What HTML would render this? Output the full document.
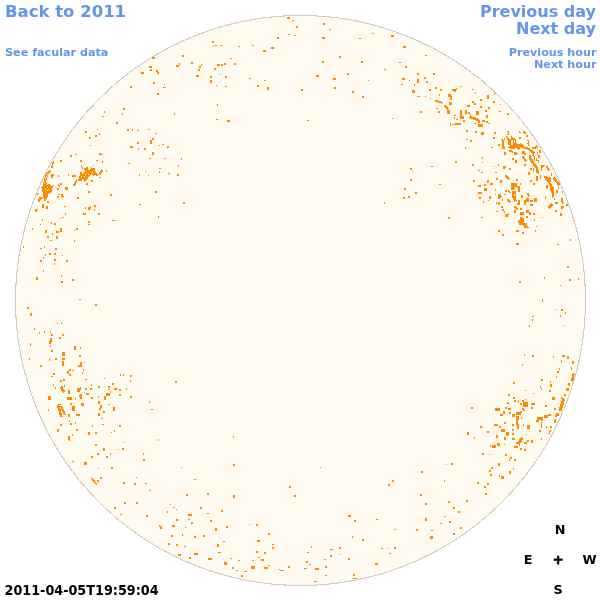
<!DOCTYPE html>
<html><head><meta charset="utf-8"><title>Faculae 2011-04-05</title>
<style>
html,body{margin:0;padding:0;background:#fff;width:600px;height:600px;overflow:hidden}
svg{display:block}
text{font-family:"DejaVu Sans","Liberation Sans",sans-serif;font-weight:bold}
.b{fill:#6495ed}
.k{fill:#000}
</style></head><body>
<svg width="600" height="600" viewBox="0 0 600 600">
<rect width="600" height="600" fill="#fff"/>
<circle cx="300.5" cy="300.5" r="285" fill="#fffaf0" stroke="#d1cdc0" stroke-width="1.1" shape-rendering="crispEdges"/>
<g id="dots" fill="#ff8c00" shape-rendering="crispEdges">
<rect x="539" y="150" width="2" height="3"/><rect x="538" y="155" width="2" height="3"/><rect x="538" y="161" width="1" height="2"/><path d="M541.0 164.5L545.0 165.5L542.5 168.5L542.0 171.5L540.5 169.0z"/><path d="M546.5 166.5L549.0 170.5" stroke="#ff8c00" stroke-width="2" fill="none"/><rect x="538" y="170" width="1" height="4"/><rect x="540" y="175" width="1" height="4"/><rect x="551" y="173" width="1" height="3"/><path d="M544.0 176.5L546.0 176.0L548.0 178.0L550.0 176.5L551.0 180.0L550.5 182.5L553.5 187.0L554.0 192.0L553.5 197.5L552.0 197.5L551.5 193.0L550.0 190.0L550.0 186.5L548.0 182.0L545.5 180.0z"/><rect x="546" y="185" width="2" height="3"/><rect x="547" y="188" width="1" height="1"/><path d="M553.5 177.5L559.5 185.0" stroke="#ff8c00" stroke-width="2.5" fill="none"/><rect x="558" y="187" width="1" height="2"/><rect x="556" y="190" width="2" height="3"/>
<rect x="562" y="191" width="1" height="2"/><rect x="545" y="196" width="1" height="3"/><rect x="554" y="198" width="1" height="2"/><path d="M561.5 198.5L563.0 203.5" stroke="#ff8c00" stroke-width="2" fill="none"/><rect x="555" y="202" width="3" height="2"/><path d="M552.5 204.0L548.5 208.0" stroke="#ff8c00" stroke-width="2.5" fill="none"/><rect x="562" y="206" width="2" height="2"/><rect x="566" y="204" width="2" height="2"/><rect x="507" y="131" width="2" height="1"/><rect x="508" y="132" width="1" height="2"/><rect x="507" y="134" width="2" height="1"/><path d="M519.3 131.3L520.7 133.3" stroke="#ff8c00" stroke-width="1.5" fill="none"/><path d="M523.3 131.3L525.7 133.7" stroke="#ff8c00" stroke-width="2" fill="none"/><rect x="526" y="135" width="2" height="2"/><rect x="519" y="137" width="2" height="2"/><path d="M501.3 139.3L503.0 140.0" stroke="#ff8c00" stroke-width="1.5" fill="none"/>
<rect x="502" y="140" width="2" height="7"/><rect x="502" y="146" width="3" height="3"/><rect x="504" y="138" width="1" height="2"/><rect x="498" y="144" width="2" height="2"/><path d="M506.3 136.7L509.0 139.7" stroke="#ff8c00" stroke-width="2" fill="none"/><path d="M508.0 139.3L511.0 139.3L511.3 136.3L513.0 138.0L516.0 139.0L516.3 142.7L518.0 144.3L520.7 143.3L523.0 144.3L524.3 146.7L528.0 147.3L529.3 148.7L528.0 149.7L524.7 148.7L522.7 147.7L520.0 147.3L519.3 150.0L517.3 149.3L516.0 148.0L513.3 149.3L511.3 148.7L508.3 148.3L508.0 147.0L510.3 145.7L508.0 144.7z"/><path d="M528.3 148.3L534.3 153.7" stroke="#ff8c00" stroke-width="2.5" fill="none"/><rect x="527" y="140" width="2" height="1"/><rect x="528" y="141" width="1" height="2"/><rect x="527" y="143" width="2" height="1"/><rect x="528" y="144" width="1" height="2"/>
<path d="M532.3 147.0L534.0 148.7" stroke="#ff8c00" stroke-width="2" fill="none"/><path d="M537.0 145.7L534.3 148.3" stroke="#ff8c00" stroke-width="2" fill="none"/><rect x="537" y="148" width="1" height="1"/><rect x="509" y="150" width="3" height="2"/><rect x="512" y="151" width="1" height="2"/><rect x="504" y="152" width="2" height="3"/><rect x="514" y="152" width="3" height="3"/><rect x="516" y="153" width="2" height="1"/><rect x="522" y="151" width="3" height="3"/><rect x="524" y="153" width="2" height="2"/><rect x="537" y="152" width="1" height="3"/><path d="M529.0 155.3L531.0 155.0L531.3 157.3L532.7 159.3L534.3 162.7L537.3 166.0L538.0 168.0L535.3 168.0L533.3 165.3L531.0 162.7L529.3 160.0z"/><rect x="532" y="155" width="2" height="1"/><rect x="534" y="156" width="1" height="3"/><rect x="534" y="156" width="1" height="5"/><rect x="536" y="160" width="3" height="1"/>
<rect x="536" y="158" width="1" height="2"/><path d="M522.3 156.3L526.3 161.3" stroke="#ff8c00" stroke-width="2" fill="none"/><rect x="512" y="158" width="2" height="2"/><rect x="515" y="160" width="2" height="3"/><rect x="524" y="164" width="2" height="2"/><rect x="498" y="164" width="1" height="2"/><rect x="503" y="166" width="3" height="2"/><rect x="503" y="168" width="2" height="1"/><rect x="509" y="168" width="2" height="2"/><path d="M505.5 175.0L509.5 179.5" stroke="#ff8c00" stroke-width="2" fill="none"/><rect x="500" y="180" width="2" height="3"/><rect x="516" y="179" width="2" height="2"/><rect x="528" y="172" width="2" height="3"/><rect x="530" y="168" width="2" height="2"/><rect x="533" y="168" width="1" height="4"/><rect x="536" y="168" width="2" height="5"/><rect x="536" y="176" width="2" height="5"/><rect x="530" y="180" width="2" height="2"/>
<rect x="533" y="183" width="2" height="2"/><rect x="520" y="183" width="1" height="2"/><path d="M511.0 183.0L517.0 183.0L517.5 185.5L519.5 186.5L519.5 191.5L518.0 191.5L517.5 188.5L515.5 186.5L514.0 189.5L511.0 189.5z"/><path d="M512.0 190.5L516.0 190.5L516.0 198.0L517.0 201.0L514.5 201.5L512.0 197.0z"/><rect x="505" y="190" width="2" height="2"/><path d="M508.0 190.5L510.5 193.0" stroke="#ff8c00" stroke-width="1.5" fill="none"/><rect x="504" y="194" width="2" height="1"/><path d="M498.0 194.0L501.0 194.2L502.0 197.0L500.0 198.5L498.0 199.0z"/><rect x="502" y="199" width="1" height="2"/><rect x="498" y="202" width="2" height="3"/><path d="M507.5 199.5L510.5 202.5" stroke="#ff8c00" stroke-width="1.5" fill="none"/><rect x="521" y="195" width="2" height="3"/><path d="M527.5 193.5L529.5 196.5" stroke="#ff8c00" stroke-width="2" fill="none"/><rect x="518" y="200" width="2" height="3"/>
<rect x="517" y="203" width="3" height="2"/><rect x="524" y="200" width="2" height="5"/><rect x="526" y="198" width="3" height="4"/><rect x="530" y="200" width="3" height="2"/><rect x="534" y="198" width="3" height="4"/><rect x="530" y="204" width="3" height="2"/><path d="M514.5 206.5L517.5 210.0" stroke="#ff8c00" stroke-width="2" fill="none"/><rect x="520" y="208" width="2" height="2"/><rect x="514" y="210" width="2" height="3"/><rect x="501" y="206" width="2" height="2"/><rect x="502" y="209" width="2" height="2"/><rect x="504" y="211" width="1" height="2"/><rect x="508" y="213" width="1" height="2"/><rect x="505" y="214" width="3" height="3"/><rect x="526" y="210" width="3" height="3"/><rect x="529" y="212" width="2" height="3"/><rect x="533" y="213" width="2" height="2"/><rect x="526" y="216" width="2" height="2"/><rect x="534" y="219" width="1" height="2"/>
<rect x="520" y="212" width="4" height="3"/><path d="M519.5 216.5L522.5 218.0L524.5 219.0L524.0 222.5L527.0 222.5L527.0 225.5L529.0 227.0L529.0 228.0L524.5 228.0L523.0 225.5L519.0 224.5L517.5 220.5L519.5 220.0z"/><rect x="536" y="226" width="1" height="1"/><path d="M84.3 168.0L87.7 167.0L88.3 170.0L90.3 170.0L91.3 167.0L93.0 168.0L94.3 167.0L95.0 170.0L94.3 171.3L96.0 172.0L96.7 173.3L98.7 174.3L97.0 176.3L96.0 175.0L92.7 175.7L91.3 174.3L89.0 176.3L86.7 180.0L84.3 182.7L83.7 180.3L82.0 179.0L81.3 181.3L78.7 181.3L78.3 180.0L79.0 176.0L80.0 175.0L80.0 172.3L82.0 172.3L82.3 173.7L85.0 171.3L84.3 169.7z"/><rect x="76" y="179" width="1" height="2"/><path d="M76.7 181.3L73.3 186.3" stroke="#ff8c00" stroke-width="2" fill="none"/><path d="M102.7 170.3L99.3 173.3" stroke="#ff8c00" stroke-width="2" fill="none"/><rect x="100" y="173" width="1" height="2"/>
<rect x="99" y="177" width="2" height="1"/><rect x="106" y="170" width="1" height="2"/><rect x="72" y="175" width="4" height="2"/><rect x="80" y="160" width="2" height="2"/><rect x="96" y="160" width="2" height="1"/><rect x="102" y="161" width="1" height="2"/><rect x="81" y="165" width="1" height="2"/><rect x="82" y="167" width="1" height="2"/><rect x="93" y="165" width="1" height="1"/><rect x="91" y="180" width="2" height="2"/><rect x="86" y="183" width="2" height="2"/><path d="M52.0 166.7L51.3 168.3" stroke="#ff8c00" stroke-width="1.5" fill="none"/><path d="M49.3 170.0L51.0 171.0L48.7 174.0L47.3 177.3L46.0 182.0L43.3 182.7L44.0 179.3L45.7 174.7L47.3 171.7z"/><rect x="51" y="174" width="3" height="2"/><rect x="51" y="176" width="2" height="2"/><rect x="58" y="175" width="1" height="2"/><rect x="60" y="183" width="2" height="2"/>
<path d="M58.3 184.0L59.7 186.7" stroke="#ff8c00" stroke-width="1.5" fill="none"/><rect x="57" y="188" width="2" height="2"/><rect x="65" y="189" width="1" height="1"/><rect x="58" y="194" width="2" height="1"/><rect x="57" y="196" width="2" height="2"/><path d="M61.7 194.3L63.0 197.7" stroke="#ff8c00" stroke-width="2" fill="none"/><path d="M46.0 182.0L47.0 184.7L50.3 183.7L50.7 186.0L53.7 185.3L52.7 188.7L51.0 192.7L48.3 194.0L47.3 197.3L45.3 201.3L44.0 201.3L44.3 197.3L42.3 198.7L43.0 195.3L42.7 192.0L41.3 191.3L42.3 188.7L40.3 188.0L42.7 185.3L43.3 182.7z"/><path d="M40.1 196.7L39.0 202.0" stroke="#ff8c00" stroke-width="2" fill="none"/><rect x="41" y="197" width="1" height="2"/><path d="M37.8 193.3L37.3 195.3" stroke="#ff8c00" stroke-width="1.5" fill="none"/><rect x="47" y="201" width="2" height="2"/><rect x="43" y="204" width="1" height="2"/>
<rect x="495" y="132" width="1" height="2"/><rect x="495" y="172" width="2" height="1"/><rect x="496" y="178" width="2" height="2"/><rect x="435" y="87" width="2" height="2"/><rect x="440" y="89" width="2" height="2"/><rect x="460" y="86" width="2" height="1"/><rect x="472" y="89" width="2" height="1"/><rect x="475" y="92" width="1" height="2"/><rect x="452" y="89" width="4" height="2"/><rect x="456" y="88" width="1" height="2"/><rect x="454" y="90" width="2" height="2"/><rect x="439" y="94" width="1" height="2"/><rect x="448" y="94" width="3" height="3"/><rect x="450" y="96" width="2" height="4"/><rect x="487" y="95" width="2" height="4"/><rect x="494" y="93" width="1" height="2"/><rect x="493" y="101" width="2" height="2"/><path d="M435.0 100.5L442.5 103.0" stroke="#ff8c00" stroke-width="2" fill="none"/><rect x="449" y="102" width="3" height="3"/>
<rect x="480" y="99" width="2" height="2"/><rect x="472" y="101" width="2" height="2"/><rect x="474" y="103" width="2" height="2"/><rect x="467" y="105" width="3" height="2"/><rect x="480" y="106" width="2" height="2"/><rect x="488" y="107" width="2" height="2"/><rect x="485" y="110" width="2" height="2"/><path d="M444.5 105.5L448.5 109.5" stroke="#ff8c00" stroke-width="1.5" fill="none"/><rect x="447" y="110" width="3" height="4"/><rect x="436" y="108" width="2" height="1"/><rect x="438" y="111" width="2" height="2"/><rect x="460" y="110" width="2" height="6"/><rect x="460" y="116" width="4" height="3"/><rect x="465" y="110" width="2" height="4"/><rect x="468" y="112" width="2" height="2"/><rect x="470" y="114" width="1" height="2"/><rect x="476" y="111" width="3" height="4"/><rect x="454" y="115" width="2" height="1"/><rect x="454" y="117" width="1" height="2"/>
<rect x="456" y="119" width="2" height="1"/><rect x="486" y="115" width="2" height="3"/><path d="M469.5 117.0L479.0 120.0" stroke="#ff8c00" stroke-width="2.5" fill="none"/><rect x="478" y="120" width="2" height="3"/><rect x="463" y="120" width="2" height="2"/><rect x="482" y="120" width="3" height="2"/><rect x="486" y="121" width="2" height="2"/><rect x="488" y="123" width="2" height="1"/><rect x="450" y="123" width="1" height="3"/><rect x="452" y="124" width="3" height="1"/><rect x="455" y="123" width="6" height="2"/><rect x="459" y="124" width="2" height="1"/><rect x="474" y="123" width="2" height="1"/><rect x="478" y="124" width="5" height="3"/><rect x="466" y="130" width="2" height="2"/><rect x="475" y="131" width="2" height="2"/><rect x="481" y="132" width="3" height="3"/><rect x="494" y="132" width="1" height="2"/><rect x="493" y="137" width="2" height="2"/>
<rect x="466" y="139" width="2" height="1"/><rect x="470" y="140" width="2" height="2"/><rect x="495" y="189" width="1" height="2"/><rect x="495" y="194" width="1" height="1"/><rect x="496" y="202" width="1" height="2"/><rect x="496" y="211" width="2" height="1"/><rect x="542" y="217" width="1" height="1"/><rect x="535" y="230" width="1" height="2"/><rect x="498" y="230" width="2" height="2"/><rect x="502" y="234" width="2" height="2"/><rect x="516" y="230" width="3" height="2"/><rect x="522" y="232" width="2" height="2"/><rect x="516" y="243" width="3" height="2"/><rect x="555" y="210" width="2" height="2"/><rect x="560" y="213" width="2" height="3"/><rect x="561" y="206" width="2" height="3"/><rect x="570" y="239" width="1" height="2"/><rect x="557" y="244" width="2" height="1"/><rect x="522" y="364" width="1" height="2"/><rect x="513" y="382" width="2" height="2"/>
<rect x="525" y="390" width="1" height="1"/><rect x="533" y="393" width="1" height="1"/><rect x="508" y="394" width="2" height="2"/><rect x="513" y="397" width="2" height="2"/><rect x="525" y="399" width="1" height="1"/><rect x="514" y="400" width="2" height="2"/><rect x="518" y="400" width="1" height="3"/><rect x="522" y="400" width="2" height="2"/><rect x="520" y="403" width="2" height="2"/><rect x="507" y="402" width="2" height="2"/><rect x="523" y="402" width="5" height="5"/><rect x="531" y="403" width="4" height="2"/><rect x="531" y="407" width="2" height="2"/><rect x="495" y="408" width="5" height="3"/><rect x="505" y="407" width="2" height="2"/><rect x="508" y="408" width="3" height="2"/><rect x="522" y="408" width="2" height="2"/><rect x="523" y="410" width="2" height="1"/><rect x="503" y="411" width="2" height="3"/><rect x="500" y="414" width="3" height="2"/>
<rect x="509" y="412" width="2" height="2"/><rect x="512" y="414" width="3" height="3"/><rect x="516" y="412" width="5" height="3"/><rect x="520" y="411" width="2" height="2"/><rect x="516" y="416" width="3" height="4"/><rect x="521" y="417" width="1" height="2"/><rect x="537" y="417" width="3" height="3"/><rect x="561" y="360" width="1" height="3"/><rect x="572" y="361" width="2" height="3"/><rect x="559" y="368" width="1" height="2"/><rect x="557" y="371" width="2" height="2"/><rect x="571" y="367" width="1" height="3"/><rect x="556" y="376" width="1" height="2"/><path d="M573.7 373.5L572.0 381.5" stroke="#ff8c00" stroke-width="2.2" fill="none"/><rect x="541" y="379" width="2" height="2"/><rect x="550" y="381" width="1" height="2"/><rect x="550" y="384" width="2" height="3"/><rect x="540" y="386" width="1" height="2"/><rect x="541" y="388" width="1" height="2"/>
<rect x="549" y="390" width="2" height="2"/><rect x="568" y="383" width="2" height="3"/><rect x="566" y="388" width="3" height="3"/><rect x="564" y="394" width="2" height="2"/><rect x="552" y="397" width="3" height="3"/><rect x="561" y="397" width="1" height="2"/><path d="M563.8 398.5L560.0 411.0" stroke="#ff8c00" stroke-width="3" fill="none"/><rect x="545" y="405" width="2" height="2"/><rect x="554" y="408" width="2" height="2"/><rect x="556" y="413" width="3" height="3"/><rect x="555" y="415" width="2" height="2"/><rect x="548" y="414" width="3" height="2"/><rect x="544" y="415" width="4" height="3"/><rect x="540" y="417" width="3" height="3"/><rect x="555" y="419" width="1" height="1"/><rect x="480" y="426" width="2" height="2"/><rect x="504" y="422" width="2" height="2"/><rect x="494" y="424" width="4" height="2"/><rect x="499" y="426" width="2" height="2"/>
<rect x="501" y="429" width="4" height="3"/><rect x="487" y="431" width="2" height="2"/><rect x="496" y="435" width="2" height="3"/><rect x="506" y="432" width="3" height="4"/><rect x="504" y="437" width="2" height="3"/><rect x="512" y="424" width="2" height="2"/><rect x="512" y="429" width="2" height="2"/><rect x="512" y="433" width="2" height="2"/><rect x="512" y="438" width="3" height="2"/><rect x="516" y="420" width="2" height="5"/><rect x="517" y="424" width="2" height="5"/><rect x="523" y="424" width="1" height="2"/><rect x="527" y="425" width="3" height="4"/><rect x="536" y="420" width="3" height="2"/><rect x="539" y="430" width="1" height="2"/><rect x="526" y="434" width="1" height="1"/><path d="M522.5 437.8L518.5 443.5" stroke="#ff8c00" stroke-width="3" fill="none"/><rect x="516" y="442" width="3" height="2"/><rect x="519" y="444" width="1" height="2"/>
<rect x="527" y="440" width="2" height="2"/><rect x="524" y="442" width="3" height="2"/><rect x="531" y="440" width="2" height="3"/><rect x="514" y="446" width="4" height="2"/><rect x="520" y="448" width="2" height="2"/><rect x="524" y="449" width="2" height="2"/><rect x="497" y="443" width="3" height="3"/><rect x="492" y="445" width="4" height="3"/><rect x="490" y="445" width="1" height="2"/><rect x="504" y="444" width="1" height="1"/><rect x="482" y="453" width="2" height="2"/><rect x="489" y="454" width="1" height="1"/><rect x="505" y="454" width="2" height="2"/><rect x="510" y="457" width="2" height="2"/><rect x="509" y="459" width="1" height="2"/><rect x="514" y="459" width="2" height="2"/><rect x="498" y="463" width="2" height="3"/><rect x="491" y="467" width="2" height="2"/><rect x="489" y="470" width="2" height="2"/><rect x="513" y="468" width="1" height="2"/>
<rect x="509" y="471" width="2" height="3"/><rect x="490" y="474" width="2" height="2"/><rect x="499" y="475" width="1" height="2"/><rect x="501" y="476" width="3" height="3"/><rect x="541" y="422" width="1" height="6"/><rect x="541" y="420" width="2" height="1"/><rect x="554" y="420" width="2" height="3"/><rect x="546" y="426" width="1" height="2"/><rect x="550" y="426" width="2" height="2"/><rect x="540" y="430" width="1" height="2"/><path d="M550.7 430.0L548.5 434.5" stroke="#ff8c00" stroke-width="1.5" fill="none"/><rect x="541" y="438" width="1" height="2"/><rect x="57" y="323" width="1" height="1"/><rect x="61" y="322" width="1" height="2"/><rect x="34" y="328" width="1" height="2"/><rect x="39" y="332" width="1" height="2"/><rect x="44" y="331" width="1" height="2"/><rect x="50" y="331" width="1" height="2"/><rect x="51" y="334" width="2" height="2"/>
<rect x="62" y="334" width="2" height="2"/><rect x="59" y="337" width="2" height="2"/><rect x="50" y="338" width="2" height="4"/><rect x="49" y="341" width="2" height="3"/><rect x="50" y="345" width="1" height="2"/><rect x="30" y="343" width="1" height="3"/><rect x="74" y="346" width="2" height="4"/><rect x="51" y="350" width="2" height="2"/><rect x="62" y="352" width="3" height="4"/><rect x="79" y="355" width="1" height="2"/><rect x="29" y="358" width="1" height="2"/><rect x="49" y="359" width="1" height="2"/><rect x="55" y="358" width="2" height="2"/><rect x="62" y="358" width="3" height="2"/><rect x="62" y="361" width="2" height="5"/><rect x="40" y="365" width="2" height="2"/><rect x="78" y="365" width="2" height="2"/><rect x="67" y="371" width="2" height="3"/><rect x="69" y="369" width="2" height="2"/><rect x="69" y="374" width="2" height="2"/>
<rect x="72" y="370" width="2" height="1"/><rect x="53" y="373" width="2" height="2"/><rect x="51" y="376" width="2" height="1"/><rect x="63" y="379" width="2" height="1"/><rect x="60" y="380" width="2" height="2"/><rect x="63" y="380" width="2" height="1"/><rect x="53" y="384" width="1" height="2"/><rect x="55" y="387" width="1" height="2"/><path d="M60.5 387.5L64.5 392.0" stroke="#ff8c00" stroke-width="2.5" fill="none"/><rect x="61" y="386" width="2" height="2"/><rect x="64" y="385" width="1" height="2"/><rect x="68" y="390" width="2" height="4"/><rect x="77" y="388" width="3" height="4"/><rect x="79" y="395" width="1" height="2"/><rect x="48" y="396" width="3" height="4"/><rect x="67" y="397" width="5" height="3"/><rect x="75" y="398" width="1" height="2"/><rect x="70" y="403" width="2" height="2"/><rect x="72" y="406" width="3" height="5"/>
<path d="M58.0 405.0L61.5 417.0" stroke="#ff8c00" stroke-width="2.5" fill="none"/><path d="M61.0 406.0L65.0 415.0" stroke="#ff8c00" stroke-width="2" fill="none"/><rect x="58" y="404" width="3" height="1"/><rect x="48" y="409" width="1" height="2"/><rect x="68" y="414" width="2" height="3"/><rect x="76" y="414" width="4" height="2"/><rect x="69" y="420" width="1" height="2"/><rect x="70" y="423" width="2" height="2"/><rect x="75" y="422" width="1" height="2"/><rect x="60" y="424" width="2" height="2"/><rect x="57" y="429" width="2" height="3"/><rect x="76" y="429" width="2" height="2"/><rect x="72" y="434" width="1" height="2"/><rect x="68" y="436" width="2" height="4"/><rect x="84" y="362" width="1" height="1"/><rect x="80" y="362" width="2" height="5"/><rect x="83" y="369" width="1" height="2"/><rect x="82" y="372" width="1" height="2"/><rect x="85" y="379" width="2" height="1"/>
<rect x="104" y="378" width="1" height="1"/><rect x="91" y="384" width="1" height="2"/><rect x="120" y="374" width="1" height="2"/><rect x="123" y="374" width="1" height="2"/><rect x="130" y="375" width="2" height="2"/><rect x="130" y="380" width="1" height="2"/><rect x="112" y="383" width="2" height="2"/><rect x="108" y="386" width="2" height="2"/><rect x="108" y="389" width="2" height="1"/><rect x="98" y="386" width="2" height="2"/><rect x="80" y="387" width="1" height="3"/><rect x="85" y="388" width="2" height="2"/><rect x="90" y="388" width="2" height="2"/><rect x="114" y="388" width="3" height="2"/><rect x="119" y="389" width="2" height="2"/><rect x="126" y="388" width="1" height="2"/><rect x="119" y="394" width="2" height="2"/><rect x="130" y="396" width="2" height="2"/><rect x="84" y="392" width="1" height="1"/><rect x="86" y="393" width="3" height="2"/>
<rect x="110" y="391" width="1" height="2"/><rect x="106" y="393" width="4" height="3"/><rect x="80" y="394" width="2" height="5"/><rect x="91" y="397" width="2" height="2"/><rect x="98" y="396" width="1" height="2"/><rect x="104" y="396" width="2" height="4"/><rect x="81" y="403" width="3" height="3"/><rect x="98" y="401" width="2" height="3"/><rect x="108" y="404" width="2" height="1"/><rect x="100" y="405" width="2" height="3"/><rect x="99" y="408" width="2" height="2"/><rect x="113" y="407" width="2" height="4"/><rect x="103" y="411" width="2" height="2"/><rect x="98" y="413" width="2" height="3"/><rect x="101" y="418" width="2" height="1"/><rect x="70" y="155" width="2" height="2"/><rect x="75" y="154" width="2" height="1"/><rect x="60" y="160" width="2" height="2"/><path d="M53.5 161.5L51.5 168.5" stroke="#ff8c00" stroke-width="1.5" fill="none"/>
<rect x="68" y="174" width="1" height="2"/><rect x="65" y="187" width="3" height="3"/><rect x="77" y="197" width="2" height="2"/><rect x="88" y="191" width="2" height="2"/><rect x="42" y="204" width="2" height="4"/><rect x="46" y="206" width="2" height="3"/><rect x="37" y="209" width="1" height="1"/><rect x="64" y="206" width="2" height="1"/><rect x="85" y="207" width="1" height="2"/><rect x="88" y="207" width="2" height="3"/><rect x="99" y="153" width="2" height="2"/><rect x="101" y="154" width="2" height="1"/><rect x="128" y="163" width="2" height="1"/><rect x="149" y="158" width="1" height="1"/><rect x="145" y="171" width="1" height="1"/><rect x="139" y="174" width="1" height="2"/><rect x="148" y="175" width="1" height="1"/><rect x="110" y="194" width="2" height="2"/><rect x="94" y="205" width="2" height="2"/><rect x="90" y="206" width="1" height="3"/>
<rect x="139" y="204" width="2" height="1"/><rect x="152" y="57" width="3" height="2"/><rect x="182" y="55" width="2" height="2"/><rect x="149" y="66" width="3" height="2"/><rect x="150" y="69" width="2" height="2"/><rect x="156" y="70" width="2" height="2"/><rect x="157" y="72" width="2" height="2"/><rect x="141" y="72" width="3" height="2"/><rect x="179" y="63" width="1" height="2"/><rect x="176" y="65" width="3" height="2"/><rect x="191" y="62" width="2" height="2"/><rect x="201" y="64" width="1" height="2"/><rect x="199" y="66" width="2" height="2"/><rect x="198" y="69" width="2" height="2"/><rect x="196" y="75" width="3" height="2"/><rect x="212" y="41" width="2" height="2"/><rect x="212" y="46" width="1" height="1"/><rect x="214" y="45" width="3" height="1"/><rect x="220" y="45" width="2" height="1"/><rect x="238" y="46" width="2" height="1"/>
<rect x="230" y="58" width="2" height="1"/><rect x="217" y="64" width="3" height="2"/><rect x="221" y="64" width="2" height="2"/><rect x="224" y="63" width="2" height="2"/><rect x="234" y="63" width="2" height="2"/><rect x="214" y="68" width="2" height="2"/><rect x="210" y="76" width="2" height="2"/><rect x="210" y="80" width="2" height="3"/><rect x="220" y="74" width="1" height="1"/><rect x="225" y="76" width="2" height="2"/><rect x="216" y="85" width="1" height="1"/><rect x="225" y="86" width="2" height="1"/><rect x="153" y="82" width="2" height="2"/><rect x="130" y="86" width="2" height="2"/><rect x="164" y="84" width="1" height="1"/><rect x="163" y="87" width="3" height="1"/><rect x="157" y="93" width="2" height="2"/><rect x="217" y="104" width="1" height="2"/><rect x="123" y="108" width="2" height="2"/><rect x="122" y="113" width="1" height="2"/>
<rect x="174" y="113" width="1" height="2"/><rect x="216" y="119" width="2" height="1"/><rect x="287" y="17" width="3" height="2"/><rect x="292" y="20" width="2" height="1"/><rect x="296" y="26" width="2" height="2"/><rect x="323" y="23" width="2" height="2"/><rect x="329" y="29" width="2" height="1"/><rect x="288" y="34" width="2" height="1"/><rect x="294" y="35" width="2" height="1"/><rect x="277" y="37" width="2" height="2"/><rect x="322" y="37" width="3" height="2"/><rect x="359" y="38" width="1" height="1"/><rect x="252" y="45" width="2" height="1"/><rect x="263" y="50" width="3" height="2"/><rect x="271" y="47" width="3" height="2"/><rect x="339" y="56" width="2" height="2"/><rect x="322" y="61" width="2" height="2"/><rect x="347" y="73" width="2" height="2"/><rect x="316" y="75" width="3" height="2"/><rect x="333" y="78" width="3" height="2"/>
<rect x="249" y="78" width="2" height="1"/><rect x="264" y="80" width="2" height="1"/><rect x="257" y="85" width="2" height="2"/><rect x="267" y="87" width="2" height="3"/><rect x="301" y="89" width="2" height="2"/><rect x="334" y="87" width="2" height="2"/><rect x="352" y="91" width="2" height="2"/><rect x="372" y="33" width="2" height="1"/><rect x="391" y="35" width="3" height="2"/><rect x="403" y="46" width="3" height="2"/><rect x="425" y="55" width="2" height="1"/><rect x="361" y="61" width="2" height="2"/><rect x="399" y="62" width="2" height="1"/><rect x="405" y="66" width="2" height="2"/><rect x="384" y="69" width="2" height="1"/><rect x="368" y="80" width="1" height="1"/><rect x="362" y="96" width="2" height="2"/><rect x="360" y="38" width="1" height="1"/><rect x="417" y="73" width="2" height="2"/><rect x="433" y="73" width="2" height="2"/>
<rect x="424" y="77" width="2" height="2"/><rect x="402" y="78" width="3" height="2"/><rect x="409" y="80" width="1" height="1"/><rect x="417" y="79" width="2" height="4"/><rect x="426" y="81" width="2" height="2"/><rect x="401" y="84" width="2" height="1"/><rect x="414" y="84" width="1" height="2"/><rect x="430" y="84" width="1" height="1"/><rect x="429" y="89" width="2" height="2"/><rect x="412" y="90" width="3" height="3"/><rect x="417" y="96" width="3" height="1"/><rect x="425" y="96" width="1" height="1"/><rect x="430" y="98" width="1" height="1"/><rect x="420" y="111" width="2" height="2"/><rect x="392" y="118" width="1" height="1"/><rect x="494" y="93" width="1" height="2"/><rect x="500" y="104" width="1" height="1"/><rect x="499" y="111" width="2" height="1"/><rect x="507" y="113" width="2" height="2"/><rect x="491" y="147" width="2" height="1"/>
<rect x="482" y="157" width="1" height="2"/><rect x="482" y="162" width="1" height="1"/><rect x="494" y="166" width="1" height="1"/><rect x="481" y="172" width="2" height="1"/><rect x="431" y="166" width="2" height="1"/><rect x="439" y="184" width="2" height="1"/><rect x="448" y="217" width="2" height="2"/><rect x="455" y="161" width="2" height="2"/><rect x="465" y="147" width="1" height="2"/><rect x="472" y="164" width="2" height="2"/><rect x="478" y="170" width="2" height="1"/><rect x="473" y="180" width="2" height="2"/><rect x="487" y="180" width="2" height="3"/><rect x="490" y="183" width="3" height="2"/><rect x="484" y="184" width="2" height="2"/><rect x="478" y="185" width="3" height="2"/><rect x="484" y="188" width="3" height="3"/><rect x="478" y="192" width="4" height="2"/><rect x="479" y="197" width="2" height="2"/><rect x="489" y="196" width="2" height="3"/>
<rect x="488" y="200" width="1" height="1"/><rect x="483" y="201" width="1" height="2"/><rect x="481" y="217" width="2" height="1"/><rect x="567" y="266" width="2" height="2"/><rect x="544" y="277" width="1" height="2"/><rect x="569" y="279" width="2" height="2"/><rect x="578" y="278" width="1" height="2"/><rect x="519" y="281" width="2" height="2"/><rect x="560" y="285" width="1" height="1"/><rect x="542" y="299" width="1" height="3"/><rect x="556" y="309" width="1" height="1"/><rect x="561" y="309" width="2" height="2"/><rect x="565" y="312" width="1" height="2"/><rect x="560" y="315" width="1" height="2"/><rect x="532" y="316" width="2" height="1"/><rect x="532" y="319" width="1" height="2"/><rect x="529" y="325" width="1" height="2"/><rect x="563" y="325" width="1" height="1"/><rect x="524" y="354" width="1" height="2"/><rect x="532" y="355" width="2" height="2"/>
<rect x="553" y="356" width="1" height="2"/><rect x="562" y="355" width="3" height="2"/><rect x="567" y="356" width="2" height="3"/><rect x="421" y="471" width="2" height="2"/><rect x="446" y="464" width="1" height="1"/><rect x="451" y="463" width="2" height="2"/><rect x="444" y="480" width="1" height="2"/><rect x="420" y="494" width="2" height="2"/><rect x="425" y="503" width="2" height="2"/><rect x="448" y="501" width="2" height="2"/><rect x="466" y="500" width="2" height="2"/><rect x="453" y="507" width="2" height="2"/><rect x="458" y="511" width="2" height="2"/><rect x="444" y="516" width="2" height="1"/><rect x="425" y="518" width="2" height="3"/><rect x="440" y="523" width="2" height="1"/><rect x="449" y="521" width="2" height="2"/><rect x="460" y="527" width="2" height="2"/><rect x="416" y="529" width="2" height="2"/><rect x="431" y="530" width="2" height="1"/>
<rect x="453" y="533" width="2" height="2"/><rect x="430" y="536" width="3" height="3"/><rect x="477" y="482" width="2" height="2"/><rect x="487" y="483" width="2" height="2"/><rect x="484" y="486" width="2" height="2"/><rect x="485" y="493" width="2" height="2"/><rect x="289" y="486" width="2" height="2"/><rect x="294" y="495" width="2" height="2"/><rect x="392" y="480" width="2" height="2"/><rect x="388" y="484" width="2" height="2"/><rect x="348" y="515" width="3" height="2"/><rect x="354" y="520" width="2" height="2"/><rect x="376" y="519" width="2" height="1"/><rect x="394" y="529" width="2" height="1"/><rect x="352" y="536" width="1" height="2"/><rect x="362" y="539" width="2" height="2"/><rect x="311" y="546" width="1" height="2"/><rect x="339" y="547" width="2" height="2"/><rect x="330" y="549" width="3" height="1"/><rect x="307" y="552" width="2" height="1"/>
<rect x="381" y="548" width="2" height="1"/><rect x="387" y="548" width="1" height="1"/><rect x="394" y="547" width="2" height="2"/><rect x="389" y="553" width="2" height="1"/><rect x="340" y="554" width="1" height="1"/><rect x="330" y="555" width="2" height="2"/><rect x="324" y="559" width="2" height="1"/><rect x="348" y="558" width="2" height="2"/><rect x="306" y="561" width="2" height="2"/><rect x="309" y="564" width="2" height="1"/><rect x="375" y="563" width="3" height="2"/><rect x="288" y="566" width="2" height="2"/><rect x="304" y="568" width="3" height="1"/><rect x="315" y="568" width="4" height="2"/><rect x="325" y="566" width="2" height="2"/><rect x="280" y="570" width="4" height="1"/><rect x="325" y="575" width="2" height="1"/><rect x="353" y="574" width="2" height="2"/><rect x="353" y="578" width="4" height="1"/><rect x="314" y="581" width="3" height="1"/>
<rect x="186" y="494" width="2" height="2"/><rect x="207" y="493" width="2" height="2"/><rect x="233" y="495" width="2" height="3"/><rect x="170" y="504" width="1" height="1"/><rect x="173" y="507" width="2" height="1"/><rect x="176" y="509" width="1" height="1"/><rect x="167" y="511" width="1" height="2"/><rect x="200" y="507" width="2" height="2"/><rect x="221" y="510" width="2" height="2"/><rect x="207" y="513" width="2" height="1"/><rect x="188" y="514" width="4" height="2"/><rect x="176" y="519" width="2" height="2"/><rect x="188" y="519" width="2" height="1"/><rect x="210" y="520" width="2" height="2"/><rect x="191" y="522" width="2" height="2"/><rect x="249" y="524" width="1" height="1"/><rect x="256" y="524" width="2" height="2"/><rect x="172" y="525" width="3" height="2"/><rect x="160" y="526" width="2" height="3"/><rect x="185" y="527" width="1" height="1"/>
<rect x="226" y="526" width="2" height="2"/><rect x="215" y="528" width="2" height="3"/><rect x="268" y="533" width="2" height="2"/><rect x="182" y="534" width="1" height="2"/><rect x="171" y="535" width="2" height="2"/><rect x="194" y="536" width="2" height="2"/><rect x="203" y="535" width="2" height="2"/><rect x="257" y="540" width="3" height="2"/><rect x="223" y="541" width="2" height="1"/><rect x="168" y="543" width="2" height="2"/><rect x="176" y="544" width="2" height="2"/><rect x="184" y="546" width="2" height="1"/><rect x="217" y="544" width="2" height="3"/><rect x="272" y="544" width="2" height="1"/><rect x="272" y="547" width="2" height="2"/><rect x="218" y="552" width="3" height="1"/><rect x="256" y="551" width="2" height="2"/><rect x="264" y="552" width="2" height="2"/><rect x="178" y="554" width="3" height="2"/><rect x="194" y="553" width="4" height="2"/>
<rect x="189" y="557" width="2" height="2"/><rect x="258" y="557" width="2" height="1"/><rect x="208" y="558" width="4" height="2"/><rect x="230" y="558" width="2" height="1"/><rect x="238" y="560" width="2" height="1"/><rect x="252" y="560" width="2" height="1"/><rect x="261" y="559" width="3" height="2"/><rect x="224" y="562" width="3" height="3"/><rect x="268" y="565" width="2" height="1"/><rect x="232" y="567" width="2" height="2"/><rect x="251" y="566" width="4" height="3"/><rect x="264" y="567" width="4" height="2"/><rect x="236" y="570" width="2" height="1"/><rect x="244" y="571" width="3" height="1"/><rect x="279" y="569" width="1" height="1"/><rect x="241" y="575" width="2" height="2"/><rect x="69" y="440" width="1" height="1"/><rect x="95" y="444" width="2" height="2"/><rect x="123" y="442" width="1" height="1"/><rect x="103" y="448" width="2" height="3"/>
<rect x="118" y="449" width="1" height="1"/><rect x="122" y="448" width="2" height="2"/><rect x="97" y="453" width="2" height="2"/><rect x="110" y="453" width="1" height="2"/><rect x="143" y="453" width="1" height="2"/><rect x="91" y="456" width="2" height="2"/><rect x="106" y="456" width="2" height="2"/><rect x="143" y="459" width="2" height="2"/><rect x="72" y="461" width="2" height="1"/><rect x="84" y="462" width="3" height="3"/><rect x="98" y="468" width="1" height="1"/><rect x="111" y="467" width="2" height="2"/><rect x="100" y="477" width="2" height="2"/><rect x="136" y="477" width="1" height="1"/><path d="M91.6 478.4L97.0 484.4" stroke="#ff8c00" stroke-width="1.5" fill="none"/><rect x="97" y="480" width="2" height="2"/><rect x="123" y="482" width="2" height="2"/><rect x="134" y="483" width="2" height="2"/><rect x="145" y="483" width="2" height="1"/>
<rect x="149" y="490" width="2" height="1"/><rect x="124" y="502" width="2" height="2"/><rect x="136" y="502" width="2" height="2"/><rect x="114" y="507" width="2" height="2"/><rect x="120" y="514" width="2" height="1"/><rect x="146" y="515" width="2" height="2"/><rect x="159" y="525" width="1" height="2"/><rect x="92" y="425" width="1" height="2"/><rect x="102" y="424" width="2" height="1"/><rect x="119" y="425" width="2" height="2"/><rect x="88" y="432" width="2" height="3"/><rect x="95" y="432" width="2" height="2"/><rect x="111" y="432" width="1" height="1"/><rect x="114" y="430" width="1" height="2"/><rect x="158" y="439" width="1" height="2"/><rect x="35" y="209" width="2" height="3"/><rect x="65" y="213" width="1" height="2"/><rect x="62" y="217" width="2" height="1"/><rect x="60" y="218" width="1" height="1"/><rect x="94" y="209" width="1" height="2"/>
<rect x="83" y="213" width="3" height="2"/><rect x="98" y="213" width="2" height="2"/><rect x="88" y="221" width="2" height="2"/><rect x="88" y="224" width="2" height="1"/><rect x="112" y="220" width="3" height="1"/><rect x="42" y="219" width="1" height="2"/><rect x="40" y="224" width="1" height="1"/><rect x="51" y="222" width="1" height="2"/><rect x="54" y="223" width="2" height="2"/><rect x="32" y="228" width="1" height="2"/><rect x="76" y="228" width="2" height="2"/><rect x="74" y="230" width="1" height="1"/><rect x="60" y="228" width="2" height="4"/><rect x="56" y="231" width="3" height="2"/><rect x="45" y="230" width="2" height="3"/><rect x="52" y="233" width="1" height="2"/><rect x="47" y="236" width="2" height="2"/><rect x="56" y="236" width="2" height="3"/><rect x="50" y="240" width="2" height="1"/><rect x="74" y="240" width="1" height="2"/>
<rect x="23" y="246" width="1" height="2"/><rect x="44" y="246" width="1" height="2"/><rect x="40" y="248" width="2" height="1"/><rect x="55" y="248" width="2" height="2"/><rect x="49" y="253" width="2" height="2"/><rect x="54" y="253" width="2" height="2"/><rect x="45" y="254" width="1" height="2"/><rect x="62" y="255" width="1" height="1"/><rect x="43" y="257" width="1" height="2"/><rect x="40" y="260" width="2" height="2"/><rect x="54" y="259" width="2" height="2"/><rect x="54" y="263" width="1" height="2"/><rect x="66" y="260" width="2" height="2"/><rect x="43" y="270" width="1" height="2"/><rect x="36" y="277" width="2" height="3"/><rect x="61" y="275" width="1" height="2"/><rect x="61" y="281" width="2" height="2"/><rect x="72" y="279" width="2" height="2"/><rect x="79" y="299" width="2" height="1"/><rect x="95" y="304" width="2" height="2"/>
<rect x="27" y="307" width="2" height="2"/><rect x="30" y="313" width="2" height="3"/><rect x="227" y="120" width="3" height="2"/><rect x="127" y="129" width="2" height="2"/><rect x="132" y="129" width="1" height="2"/><rect x="137" y="130" width="2" height="1"/><rect x="148" y="129" width="2" height="1"/><rect x="155" y="133" width="2" height="1"/><rect x="152" y="138" width="2" height="2"/><rect x="150" y="140" width="2" height="4"/><rect x="137" y="142" width="2" height="2"/><rect x="130" y="146" width="3" height="2"/><rect x="138" y="148" width="1" height="2"/><rect x="144" y="148" width="2" height="2"/><rect x="159" y="145" width="1" height="1"/><rect x="162" y="144" width="2" height="1"/><rect x="167" y="146" width="2" height="2"/><rect x="152" y="152" width="2" height="3"/><rect x="149" y="158" width="2" height="1"/><rect x="164" y="158" width="2" height="1"/>
<rect x="181" y="158" width="1" height="2"/><rect x="178" y="165" width="1" height="2"/><rect x="159" y="168" width="2" height="1"/><rect x="159" y="171" width="1" height="2"/><rect x="168" y="173" width="2" height="1"/><rect x="177" y="174" width="2" height="2"/><rect x="155" y="191" width="2" height="2"/><rect x="183" y="202" width="2" height="2"/><rect x="158" y="216" width="1" height="2"/><rect x="104" y="111" width="1" height="2"/><rect x="102" y="116" width="2" height="1"/><rect x="116" y="122" width="2" height="2"/><rect x="85" y="131" width="2" height="2"/><rect x="97" y="129" width="1" height="1"/><rect x="95" y="135" width="2" height="2"/><rect x="99" y="133" width="1" height="2"/><rect x="89" y="137" width="2" height="2"/><rect x="90" y="145" width="1" height="1"/><rect x="307" y="120" width="2" height="1"/><rect x="410" y="168" width="2" height="2"/>
<rect x="412" y="171" width="1" height="1"/><rect x="410" y="179" width="2" height="2"/><rect x="404" y="188" width="2" height="2"/><rect x="415" y="192" width="2" height="2"/><rect x="403" y="197" width="2" height="2"/><rect x="408" y="196" width="2" height="2"/><rect x="384" y="202" width="1" height="2"/><rect x="175" y="381" width="2" height="2"/><rect x="149" y="401" width="1" height="2"/><rect x="151" y="409" width="2" height="1"/><rect x="471" y="407" width="2" height="2"/><rect x="233" y="436" width="1" height="2"/><rect x="233" y="464" width="2" height="2"/><rect x="181" y="467" width="1" height="1"/><rect x="320" y="467" width="1" height="1"/><rect x="194" y="479" width="2" height="1"/><rect x="467" y="432" width="2" height="3"/><rect x="474" y="437" width="1" height="2"/><rect x="80" y="347" width="1" height="2"/><rect x="80" y="355" width="1" height="2"/>
</g>
<g id="holes" fill="#fffaf0" shape-rendering="crispEdges">
<rect x="511" y="140" width="2" height="5"/><rect x="514" y="140" width="1" height="1"/><rect x="514" y="141" width="1" height="2"/><rect x="514" y="194" width="1" height="2"/><rect x="85" y="174" width="1" height="1"/><rect x="84" y="176" width="1" height="1"/><rect x="81" y="176" width="1" height="1"/><rect x="88" y="174" width="1" height="1"/><rect x="92" y="172" width="1" height="1"/><rect x="47" y="174" width="1" height="1"/><rect x="46" y="176" width="1" height="1"/><rect x="45" y="178" width="1" height="1"/><rect x="44" y="183" width="1" height="1"/><rect x="47" y="187" width="1" height="1"/><rect x="45" y="189" width="1" height="1"/><rect x="48" y="189" width="1" height="1"/><rect x="47" y="190" width="1" height="1"/><rect x="52" y="188" width="1" height="1"/>
</g>
<text class="b" x="5" y="17" font-size="16.5">Back to 2011</text>
<text class="b" x="5" y="56" font-size="11.2">See facular data</text>
<text class="b" x="596" y="17" font-size="16" text-anchor="end">Previous day</text>
<text class="b" x="596" y="34" font-size="16" text-anchor="end">Next day</text>
<text class="b" x="596.5" y="56" font-size="11.2" text-anchor="end">Previous hour</text>
<text class="b" x="596.5" y="68" font-size="11.2" text-anchor="end">Next hour</text>
<text class="k" transform="translate(4.5,595) scale(1,1.06)" font-size="12.8">2011-04-05T19:59:04</text>
<text class="k" x="560" y="533.7" font-size="12.8" text-anchor="middle">N</text>
<text class="k" x="528" y="564" font-size="12.8" text-anchor="middle">E</text>
<text class="k" x="558" y="563.5" font-size="12.8" text-anchor="middle" stroke="#000" stroke-width="0.8">+</text>
<text class="k" x="589.5" y="564" font-size="12.8" text-anchor="middle">W</text>
<text class="k" x="558" y="594" font-size="12.8" text-anchor="middle">S</text>
</svg>
</body></html>
